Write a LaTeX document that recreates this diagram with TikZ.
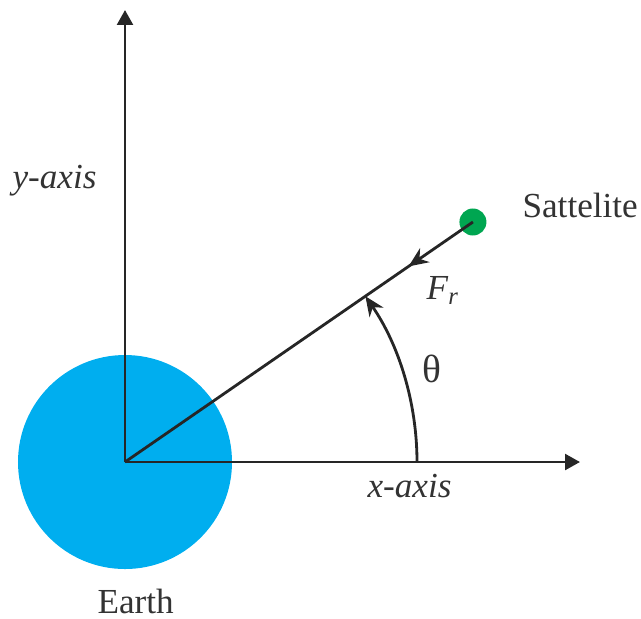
\documentclass[tikz,border=0pt]{standalone}
\usepackage{fontspec}
\setmainfont{Liberation Serif}
\usetikzlibrary{arrows.meta, decorations.markings}
\definecolor{earthblue}{HTML}{00AEEF}
\definecolor{satgreen}{HTML}{00A651}

\begin{document}
\begin{tikzpicture}[x=0.0125cm, y=0.0125cm,
    axis/.style={line width=1pt, draw=black!85, -{Triangle[length=5.3pt, width=5.6pt]}},
    force/.style={line width=1pt, draw=black!85},
    lbl/.style={font=\fontsize{12.5}{15}\selectfont, text=black!80, inner sep=0pt}]
  % ----- Bounding box matching the reference margins -----
  \useasboundingbox (-125, -156) rectangle (516, 462);

  % ----- Earth and coordinate axes -----
  \coordinate (O) at (0, 0);
  \fill[earthblue] (O) circle (107);
  \coordinate (ytip) at (0, 452);
  \coordinate (xtip) at (455, 0);
  \draw[axis] (O) -- (ytip);
  \draw[axis] (O) -- (xtip);

  % ----- Satellite and radial force pointing to Earth -----
  \node[circle, fill=satgreen, minimum size=9.6pt, inner sep=0pt] (sat) at (34.6:422.7) {};
  \draw[force, postaction={decorate},
        decoration={markings, mark=at position 0.185 with {\arrow{Stealth[length=7pt, width=6pt]}}}]
    (sat.center) -- (O);

  % ----- Angle theta measured from the x-axis -----
  \coordinate (arcstart) at (292, 0);
  \draw[force, -{Stealth[length=7pt, width=6pt]}] (arcstart) arc[start angle=0, end angle=34.6, radius=292];

  % ----- Labels -----
  \node[lbl, anchor=base west] (ylab) at (-113, 274) {\textit{y-axis}};
  \node[lbl, anchor=base west] (xlab) at (242, -35) {\textit{x-axis}};
  \node[lbl, anchor=base west] (satlab) at (397, 245) {Sattelite};
  \node[lbl, anchor=base west] (flab) at (301, 163) {\textit{F}\textsubscript{\textit{r}}};
  \node[lbl, anchor=base, font=\fontsize{14}{16}\selectfont] (thetalab) at (307, 80) {θ};
  \node[lbl, anchor=base west] (earthlab) at (-28, -151) {Earth};
\end{tikzpicture}
\end{document}
